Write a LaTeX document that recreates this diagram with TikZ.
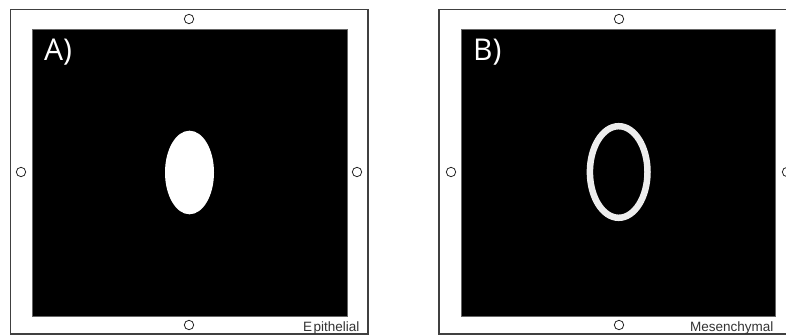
\documentclass[tikz,border=0pt]{standalone}
\usepackage{fontspec}
\newfontfamily\labfont{Open Sans}
\newfontfamily\capfont{Liberation Sans}
\begin{document}
\begin{tikzpicture}[x=1pt,y=-1pt,
  frame/.style={draw=black!75,line width=1.3pt,fill=white},
  field/.style={fill=black,draw=black!60,line width=0.6pt},
  port/.style={draw=black!85,line width=0.8pt,fill=white},
  panellabel/.style={text=white,font=\labfont\fontsize{30}{30}\selectfont,anchor=north west,inner sep=0pt},
  caption/.style={text=black!80,font=\capfont\fontsize{13.5}{13.5}\selectfont,anchor=base east,inner sep=0pt}]
\useasboundingbox (0,0) rectangle (786,336);
\begin{scope}
\clip (0,0) rectangle (786,336);
% Panel A
\draw[frame] (10.5,9.5) rectangle (368,334);
\draw[field] (32,29) rectangle (347,316);
\fill[white] (189.5,172.5) ellipse [x radius=24.5, y radius=41.8];
\draw[port] (189,19) circle [radius=4.7];
\draw[port] (189,325) circle [radius=4.7];
\draw[port] (21,172) circle [radius=4.7];
\draw[port] (357,172) circle [radius=4.7];
\node[panellabel] (la) at (44,39) {A)};
\node[caption] (ca) at (359.5,331) {E\kern1.5pt pithelial};
% Panel B
\draw[frame] (439,9.5) rectangle (797,334);
\draw[field] (461,29) rectangle (775,316);
\draw[white!93!black,line width=6.5pt] (618.7,172) ellipse [x radius=28.8, y radius=45.8];
\draw[port] (619,19) circle [radius=4.7];
\draw[port] (619,325) circle [radius=4.7];
\draw[port] (451,172) circle [radius=4.7];
\draw[port] (787,172) circle [radius=4.7];
\node[panellabel] (lb) at (473,39) {B)};
\node[caption] (cb) at (773.5,331) {Mesenchymal};
\end{scope}
\end{tikzpicture}
\end{document}
